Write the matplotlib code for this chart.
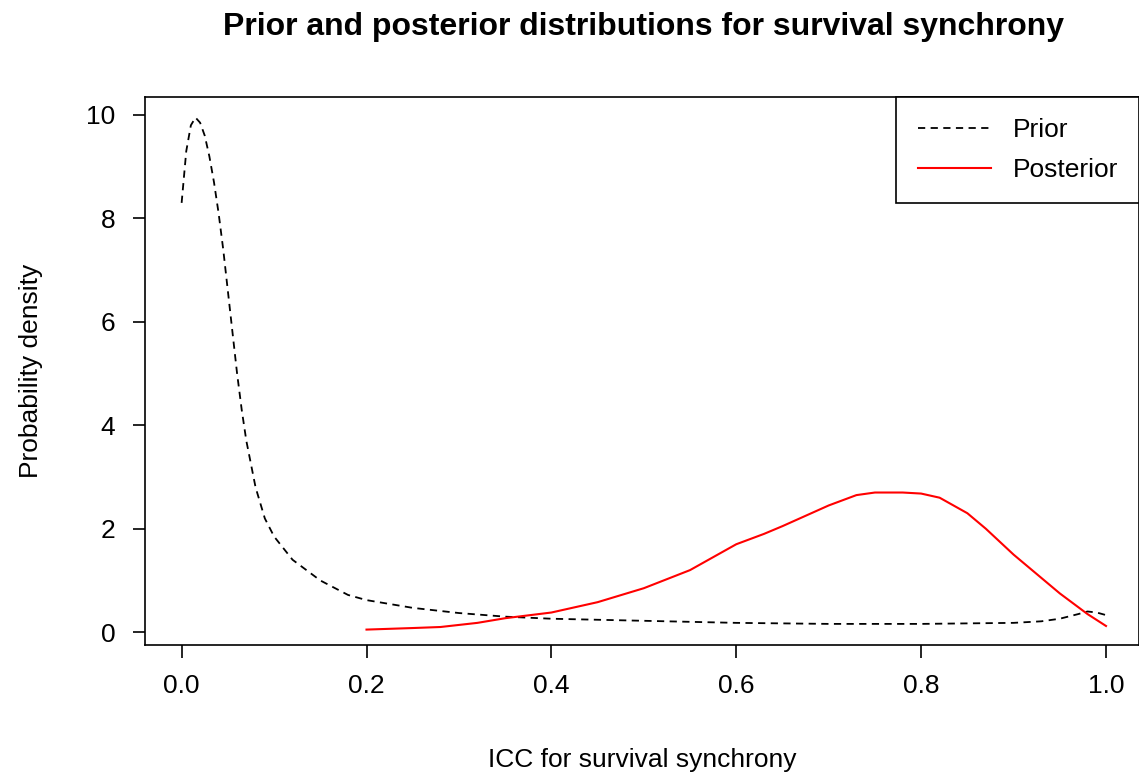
import matplotlib

matplotlib.use("Agg", force=True)
import matplotlib.pyplot as plt

plt.rcParams["font.family"] = ["Liberation Sans", "DejaVu Sans"]

prior_x = [0.0, 0.005, 0.01, 0.015, 0.02, 0.025, 0.03, 0.035, 0.04, 0.045, 0.05, 0.055, 0.06,
           0.065, 0.07, 0.08, 0.09, 0.1, 0.12, 0.15, 0.18, 0.2, 0.25, 0.3, 0.35, 0.4, 0.5, 0.6,
           0.7, 0.8, 0.9, 0.93, 0.95, 0.97, 0.98, 0.99, 1.0]
prior_y = [8.3, 9.3, 9.8, 9.95, 9.85, 9.6, 9.2, 8.7, 8.1, 7.4, 6.6, 5.8, 5.0,
           4.3, 3.7, 2.8, 2.2, 1.85, 1.4, 1.0, 0.72, 0.62, 0.47, 0.37, 0.3, 0.26, 0.22, 0.18,
           0.16, 0.16, 0.18, 0.21, 0.26, 0.35, 0.4, 0.38, 0.33]
post_x = [0.2, 0.25, 0.28, 0.32, 0.35, 0.4, 0.45, 0.5, 0.55, 0.6, 0.63, 0.65, 0.7,
          0.73, 0.75, 0.78, 0.8, 0.82, 0.85, 0.87, 0.9, 0.95, 0.98, 1.0]
post_y = [0.05, 0.08, 0.1, 0.18, 0.27, 0.38, 0.58, 0.85, 1.2, 1.7, 1.9, 2.05, 2.45,
          2.65, 2.7, 2.7, 2.68, 2.6, 2.3, 2.0, 1.5, 0.75, 0.35, 0.12]

fig = plt.figure(figsize=(11.39, 7.81), dpi=100)
ax = fig.add_axes([0.127, 0.174, 0.873, 0.702])
ax.plot(prior_x, prior_y, color="black", linestyle=(0, (4, 3)), lw=1.3, label="Prior")
ax.plot(post_x, post_y, color="red", lw=1.5, label="Posterior")
ax.set_xlim(-0.04, 1.0357)
ax.set_ylim(-0.25, 10.35)
ax.set_xticks([0.0, 0.2, 0.4, 0.6, 0.8, 1.0])
ax.set_xticklabels(["0.0", "0.2", "0.4", "0.6", "0.8", "1.0"])
ax.set_yticks([0, 2, 4, 6, 8, 10])
ax.tick_params(labelsize=19, length=9, width=1.2, pad=12)
for s in ax.spines.values():
    s.set_linewidth(1.2)
ax.set_xlabel("ICC for survival synchrony", fontsize=19, labelpad=36)
ax.set_ylabel("Probability density", fontsize=19, labelpad=31)
fig.suptitle("Prior and posterior distributions for survival synchrony",
             fontsize=23, fontweight="bold", x=0.565, y=0.985)
leg = ax.legend(loc="upper right", fontsize=19, fancybox=False, edgecolor="black",
                framealpha=1, borderaxespad=0, handlelength=2.8, borderpad=0.8,
                labelspacing=0.6)
leg.get_frame().set_linewidth(1.2)
fig.savefig("out.png", dpi=100)
